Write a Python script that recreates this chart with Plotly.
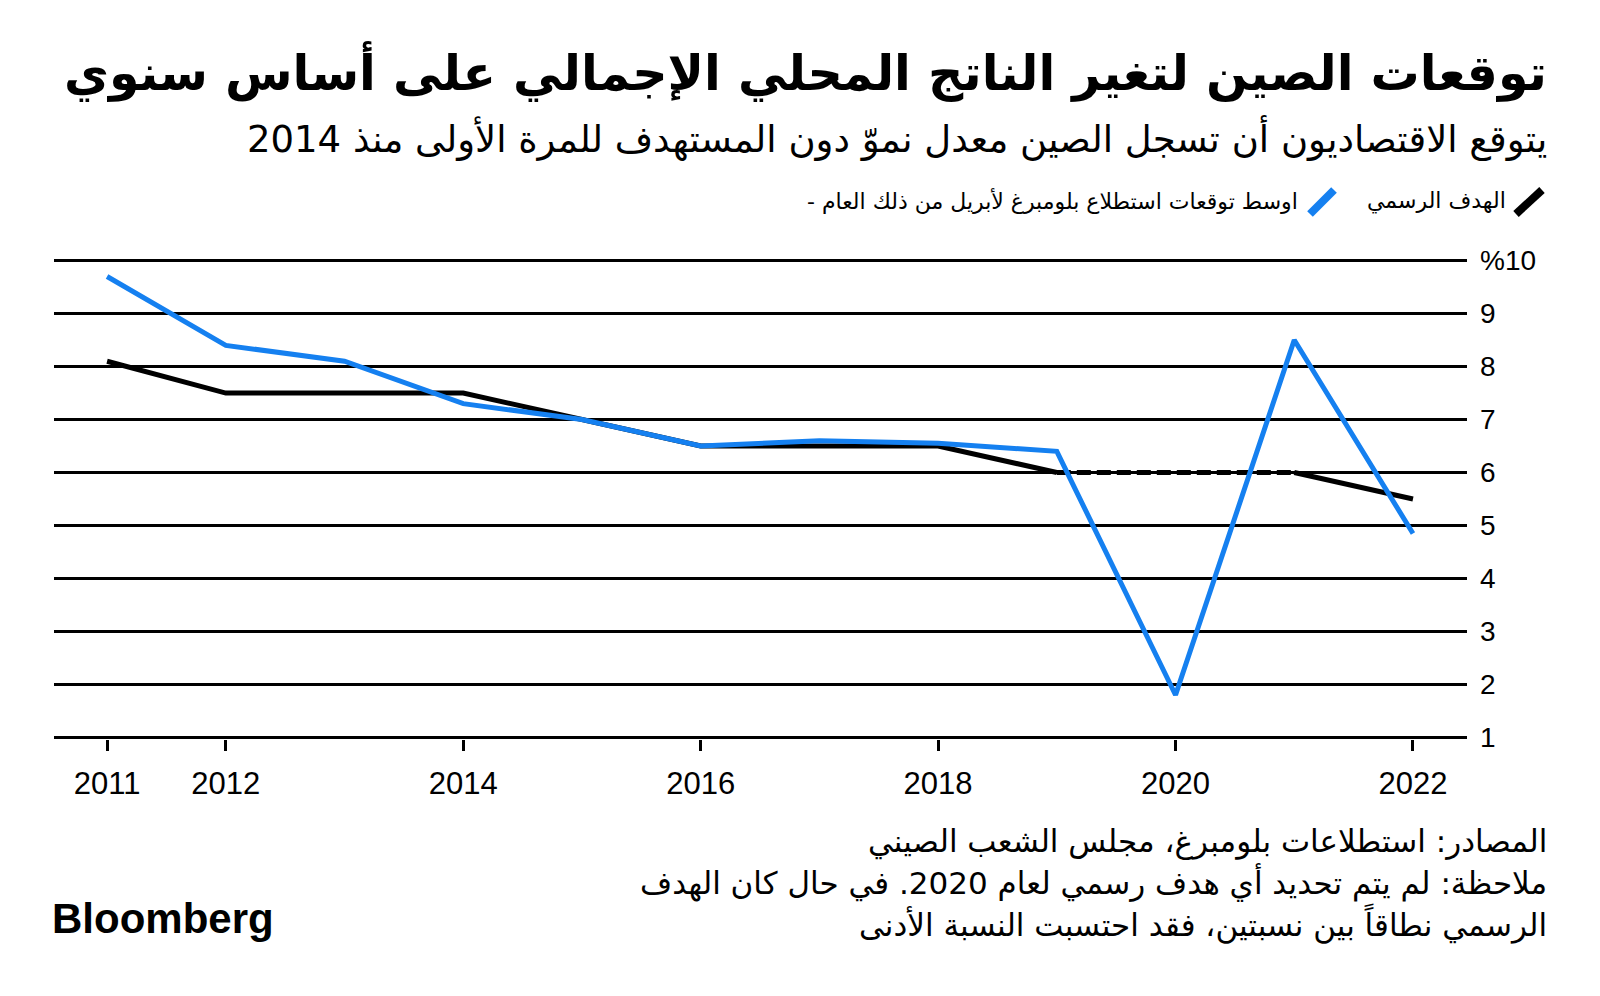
import plotly.graph_objects as go

# ---- data ----
years = [2011, 2012, 2013, 2014, 2015, 2016, 2017, 2018, 2019, 2020, 2021, 2022]
survey_median = [9.7, 8.4, 8.1, 7.3, 7.0, 6.5, 6.6, 6.55, 6.4, 1.8, 8.5, 4.85]
official_target = [8.1, 7.5, 7.5, 7.5, 7.0, 6.5, 6.5, 6.5, 6.0, None, 6.0, 5.5]
x_tick_vals = [2011, 2012, 2014, 2016, 2018, 2020, 2022]
x_tick_text = ["2011", "2012", "2014", "2016", "2018", "2020", "2022"]
y_tick_vals = [1, 2, 3, 4, 5, 6, 7, 8, 9, 10]
y_tick_text = ["1", "2", "3", "4", "5", "6", "7", "8", "9", "%10"]

title = "توقعات الصين لتغير الناتج المحلي الإجمالي على أساس سنوي"
subtitle = "يتوقع الاقتصاديون أن تسجل الصين معدل نموّ دون المستهدف للمرة الأولى منذ 2014"
legend_target = "الهدف الرسمي"
legend_survey = "اوسط توقعات استطلاع بلومبرغ لأبريل من ذلك العام -\u200f"
source_lines = [
    "المصادر: استطلاعات بلومبرغ، مجلس الشعب الصيني",
    "ملاحظة: لم يتم تحديد أي هدف رسمي لعام 2020. في حال كان الهدف",
    "الرسمي نطاقاً بين نسبتين، فقد احتسبت النسبة الأدنى",
]

# ---- layout geometry (page has an 8px body margin) ----
OFF = 8
W, H = 1600 - OFF, 996 - OFF
L, R, T, B = 54 - OFF, 133, 259 - OFF, 257
PW, PH = W - L - R, H - T - B

def px(x):
    return (x - OFF - L) / PW

def py(y):
    return (H - B - (y - OFF)) / PH

AR = "DejaVu Sans"
NUM = "Liberation Sans, Arial, sans-serif"
BLUE = "#1580F0"
RIGHT = 1549

fig = go.Figure()

# official target: solid where defined, dashed across the missing year
i_gap = official_target.index(None)
fig.add_trace(go.Scatter(x=years[:i_gap], y=official_target[:i_gap], mode="lines",
                         line=dict(color="black", width=5), hoverinfo="skip"))
fig.add_trace(go.Scatter(x=[years[i_gap - 1], years[i_gap + 1]],
                         y=[official_target[i_gap - 1], official_target[i_gap + 1]],
                         mode="lines",
                         line=dict(color="black", width=5, dash="14px,6px"),
                         hoverinfo="skip"))
fig.add_trace(go.Scatter(x=years[i_gap + 1:], y=official_target[i_gap + 1:], mode="lines",
                         line=dict(color="black", width=5), hoverinfo="skip"))
fig.add_trace(go.Scatter(x=years, y=survey_median, mode="lines",
                         line=dict(color=BLUE, width=5), hoverinfo="skip"))

annotations = [
    dict(text="<b>" + title + "</b>", x=px(RIGHT), y=py(72), xref="paper", yref="paper",
         xanchor="right", yanchor="middle", showarrow=False,
         font=dict(family=AR, size=49, color="black")),
    dict(text=subtitle, x=px(RIGHT), y=py(138), xref="paper", yref="paper",
         xanchor="right", yanchor="middle", showarrow=False,
         font=dict(family=AR, size=37, color="black")),
    dict(text=legend_target, x=px(1508), y=py(201), xref="paper", yref="paper",
         xanchor="right", yanchor="middle", showarrow=False,
         font=dict(family=AR, size=22, color="black")),
    dict(text=legend_survey, x=px(1300), y=py(201), xref="paper", yref="paper",
         xanchor="right", yanchor="middle", showarrow=False,
         font=dict(family=AR, size=22, color="black")),
    dict(text="<b>Bloomberg</b>", x=px(50), y=py(918), xref="paper", yref="paper",
         xanchor="left", yanchor="middle", showarrow=False,
         font=dict(family="Liberation Sans, Arial", size=42, color="black")),
]
for i, line in enumerate(source_lines):
    annotations.append(dict(text=line, x=px(RIGHT), y=py(841 + i * 41), xref="paper", yref="paper",
                            xanchor="right", yanchor="middle", showarrow=False,
                            font=dict(family=AR, size=31, color="black")))

shapes = [
    dict(type="line", xref="paper", yref="paper", x0=px(1516), y0=py(214), x1=px(1542), y1=py(190),
         line=dict(color="black", width=8)),
    dict(type="line", xref="paper", yref="paper", x0=px(1310), y0=py(214), x1=px(1334), y1=py(190),
         line=dict(color=BLUE, width=8)),
]

fig.update_layout(
    width=W, height=H,
    margin=dict(l=L, r=R, t=T, b=B, pad=0),
    paper_bgcolor="white", plot_bgcolor="white",
    showlegend=False,
    annotations=annotations,
    shapes=shapes,
    xaxis=dict(range=[2010.553, 2022.455], tickvals=x_tick_vals, ticktext=x_tick_text,
               showgrid=False, zeroline=False, showline=False,
               ticks="outside", ticklen=11, tickwidth=3, tickcolor="black",
               tickfont=dict(family=NUM, size=31, color="black"),
               ticklabelstandoff=6, fixedrange=True),
    yaxis=dict(range=[0.97, 10.03], tickvals=y_tick_vals, ticktext=y_tick_text,
               side="right", showgrid=True, gridcolor="black", gridwidth=2.5,
               zeroline=False, showline=False, ticks="",
               tickfont=dict(family=NUM, size=28, color="black"),
               ticklabelstandoff=12, fixedrange=True),
)

fig.write_html("out.html")
